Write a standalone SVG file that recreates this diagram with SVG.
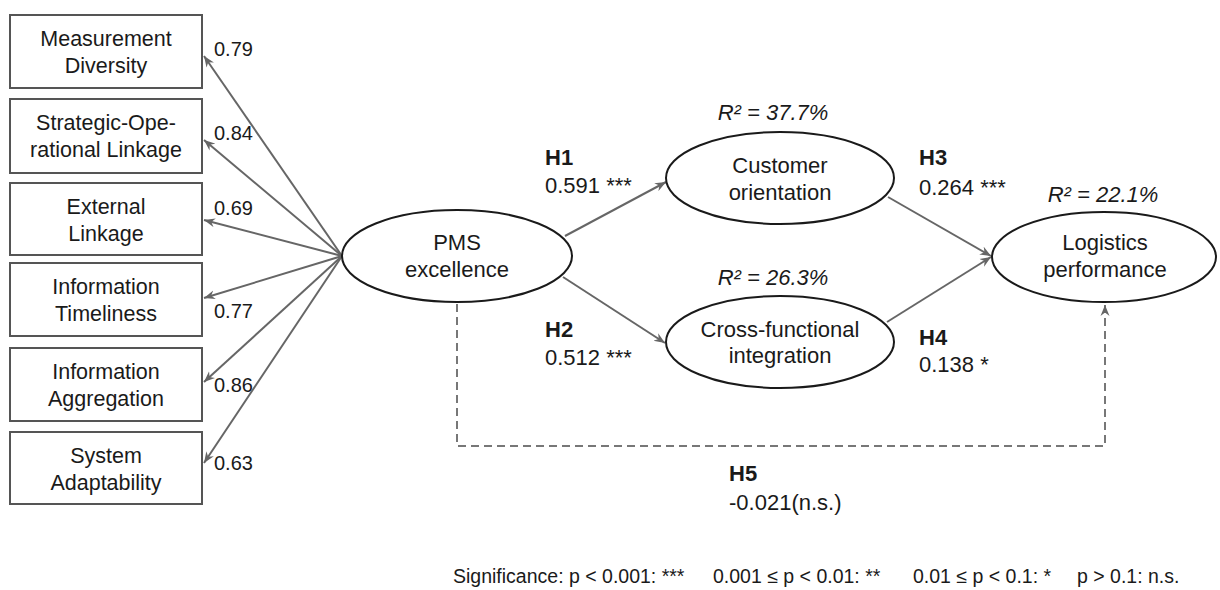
<svg xmlns="http://www.w3.org/2000/svg" width="1220" height="590" viewBox="0 0 1220 590">
<style>
text{font-family:"Liberation Sans",Arial,sans-serif;fill:#1a1a1a}
.bt{font-size:21.5px;text-anchor:middle}
.et{font-size:22px;text-anchor:middle}
.ld{font-size:20px}
.h{font-size:22px;font-weight:bold}
.v{font-size:22px}
.r2{font-size:22px;font-style:italic;text-anchor:middle}
.sig{font-size:19.5px}
.box{fill:#fff;stroke:#555;stroke-width:2}
.ell{fill:#fff;stroke:#1a1a1a;stroke-width:2}
.c{fill:none;stroke:#666;stroke-width:2}
.d{fill:none;stroke:#777;stroke-width:2;stroke-dasharray:8 5}
</style>
<defs>
<marker id="ah" markerWidth="12" markerHeight="10" refX="11" refY="5" orient="auto" markerUnits="userSpaceOnUse">
<path d="M0,0.5 L11,5 L0,9.5 L3.5,5 Z" fill="#666"/>
</marker>
</defs>
<rect width="1220" height="590" fill="#fff"/>
<g id="connectors">
<line class="c" x1="342" y1="256" x2="204" y2="56" marker-end="url(#ah)"/>
<line class="c" x1="342" y1="256" x2="204" y2="140" marker-end="url(#ah)"/>
<line class="c" x1="342" y1="256" x2="204" y2="220" marker-end="url(#ah)"/>
<line class="c" x1="342" y1="256" x2="204" y2="298" marker-end="url(#ah)"/>
<line class="c" x1="342" y1="256" x2="204" y2="382" marker-end="url(#ah)"/>
<line class="c" x1="342" y1="256" x2="204" y2="463" marker-end="url(#ah)"/>
<line class="c" x1="565" y1="236" x2="666" y2="182" marker-end="url(#ah)"/>
<line class="c" x1="563" y1="277" x2="665" y2="343" marker-end="url(#ah)"/>
<line class="c" x1="888" y1="197" x2="991" y2="256" marker-end="url(#ah)"/>
<line class="c" x1="887" y1="322" x2="991" y2="257" marker-end="url(#ah)"/>
<path class="d" d="M457,304 V446 H1105 V305" marker-end="url(#ah)"/>
</g>
<g id="n-md"><rect class="box" x="10" y="15" width="192" height="73"/><text class="bt" x="106" y="46">Measurement</text><text class="bt" x="106" y="73">Diversity</text></g>
<g id="n-sol"><rect class="box" x="10" y="99" width="192" height="74"/><text class="bt" x="106" y="130">Strategic-Ope-</text><text class="bt" x="106" y="157">rational Linkage</text></g>
<g id="n-el"><rect class="box" x="10" y="183" width="192" height="72"/><text class="bt" x="106" y="214">External</text><text class="bt" x="106" y="241">Linkage</text></g>
<g id="n-it"><rect class="box" x="10" y="263" width="192" height="73"/><text class="bt" x="106" y="294">Information</text><text class="bt" x="106" y="321">Timeliness</text></g>
<g id="n-ia"><rect class="box" x="10" y="348" width="192" height="73"/><text class="bt" x="106" y="379">Information</text><text class="bt" x="106" y="406">Aggregation</text></g>
<g id="n-sa"><rect class="box" x="10" y="432" width="192" height="72"/><text class="bt" x="106" y="463">System</text><text class="bt" x="106" y="490">Adaptability</text></g>
<g id="loadings">
<text class="ld" x="214" y="56">0.79</text>
<text class="ld" x="214" y="140">0.84</text>
<text class="ld" x="214" y="215">0.69</text>
<text class="ld" x="214" y="318">0.77</text>
<text class="ld" x="214" y="392">0.86</text>
<text class="ld" x="214" y="470">0.63</text>
</g>
<g id="n-pms"><ellipse class="ell" cx="457" cy="256" rx="115" ry="46"/><text class="et" x="457" y="250">PMS</text><text class="et" x="457" y="277">excellence</text></g>
<g id="n-co"><ellipse class="ell" cx="780" cy="178" rx="114" ry="46"/><text class="et" x="780" y="173">Customer</text><text class="et" x="780" y="200">orientation</text><text class="r2" x="773" y="120">R² = 37.7%</text></g>
<g id="n-cfi"><ellipse class="ell" cx="780" cy="342" rx="114" ry="46"/><text class="et" x="780" y="337">Cross-functional</text><text class="et" x="780" y="363">integration</text><text class="r2" x="773" y="285">R² = 26.3%</text></g>
<g id="n-lp"><ellipse class="ell" cx="1104" cy="257" rx="112" ry="45"/><text class="et" x="1105" y="250">Logistics</text><text class="et" x="1105" y="277">performance</text><text class="r2" x="1103" y="202">R² = 22.1%</text></g>
<g id="labels">
<text class="h" x="545" y="165">H1</text><text class="v" x="545" y="193">0.591 ***</text>
<text class="h" x="545" y="337">H2</text><text class="v" x="545" y="365">0.512 ***</text>
<text class="h" x="919" y="165">H3</text><text class="v" x="919" y="195">0.264 ***</text>
<text class="h" x="919" y="345">H4</text><text class="v" x="919" y="372">0.138 *</text>
<text class="h" x="729" y="481">H5</text><text class="v" x="729" y="510">-0.021(n.s.)</text>
</g>
<g id="legend">
<text class="sig" y="583"><tspan x="453">Significance: p &lt; 0.001: ***</tspan><tspan x="713">0.001 ≤ p &lt; 0.01: **</tspan><tspan x="913">0.01 ≤ p &lt; 0.1: *</tspan><tspan x="1077">p &gt; 0.1: n.s.</tspan></text>
</g>
</svg>
